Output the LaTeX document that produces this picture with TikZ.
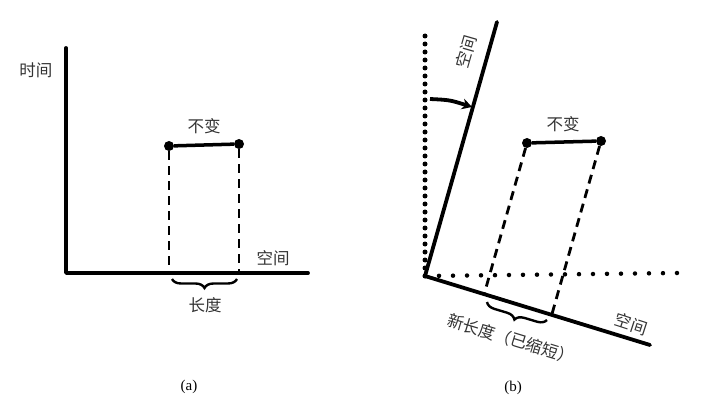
\documentclass[tikz,border=0pt]{standalone}
\usepackage{fontspec}
\setmainfont{Liberation Serif}
\newfontfamily\cjk{Noto Sans CJK SC}
\usetikzlibrary{decorations.pathreplacing,arrows.meta,calc}
\tikzset{
  axisline/.style={line width=3.8pt,line cap=round,line join=round},
  segline/.style={line width=3.5pt},
  dashline/.style={line width=2.8pt,dash pattern=on 9pt off 6pt},
  dotline/.style={line width=5pt,line cap=round,dash pattern=on 0pt off 8pt},
  sparsedots/.style={line width=4.5pt,line cap=round,dash pattern=on 0pt off 14pt},
  dotnode/.style={circle,fill=black,inner sep=0pt,minimum size=10pt},
  lbl/.style={font=\cjk\fontsize{16.5}{19}\selectfont,text=black!80,inner sep=0pt},
  caplabel/.style={font=\fontsize{15}{17}\selectfont,inner sep=0pt},
  bracestyle/.style={line width=2.4pt,decorate,decoration={brace,mirror,amplitude=9pt}}
}
\begin{document}
\begin{tikzpicture}[x=1pt,y=-1pt]
\useasboundingbox (0,0) rectangle (718,409);
% ---------- (a) ----------
\coordinate (aO) at (66,273);
\coordinate (aT) at (66,48);
\coordinate (aX) at (308,273);
\draw[axisline] (aT) -- (aO) -- (aX);
\node[lbl] (atime) at (36,70) {时间};
\node[lbl] (aspace) at (273,258) {空间};
\node[dotnode] (a1) at (169,146) {};
\node[dotnode] (a2) at (239,144) {};
\draw[segline] (a1) -- (a2);
\node[lbl] (ainv) at (204,126) {不变};
\draw[dashline] (a1.south) -- (a1.center |- aO);
\draw[dashline] (a2.south) -- (a2.center |- aO);
\coordinate (abr1) at (172,279);
\coordinate (abr2) at (237,279);
\draw[bracestyle] (abr1) -- (abr2);
\node[lbl] (alen) at (205,305) {长度};
\node[caplabel] (acap) at (189,387) {(a)};
% ---------- (b) ----------
\coordinate (bO) at (425,276);
\coordinate (bT) at (497,22);
\coordinate (bS) at (650,345);
\coordinate (bV) at (425,32);
\coordinate (bH) at (677,273);
\draw[dotline] (bO) -- (bV);
\draw[sparsedots] (bO) -- (bH);
\draw[axisline] (bT) -- (bO) -- (bS);
\node[lbl,rotate=74] (btime) at (466,52) {空间};
\draw[line width=3.8pt,-{Stealth[length=10pt,width=11pt]}] (430,99) .. controls (450,100) .. (472,107);
\node[dotnode] (b1) at (527,143) {};
\node[dotnode] (b2) at (601,141) {};
\draw[segline] (b1) -- (b2);
\node[lbl] (binv) at (563,124) {不变};
\coordinate (b1d) at ($(b1)+(-72,254)$);
\coordinate (b2d) at ($(b2)+(-72,254)$);
\coordinate (i1) at (intersection of b1--b1d and bO--bS);
\coordinate (i2) at (intersection of b2--b2d and bO--bS);
\draw[dashline] (b1) -- (i1);
\draw[dashline] (b2) -- (i2);
\coordinate (bbr1) at (487,302);
\coordinate (bbr2) at (547,320);
\draw[bracestyle] (bbr1) -- (bbr2);
\node[lbl,rotate=-17] (blen) at (511,339) {新长度（已缩短）};
\node[lbl,rotate=-18] (bspace) at (631,324) {空间};
\node[caplabel] (bcap) at (513,388) {(b)};
\end{tikzpicture}
\end{document}
